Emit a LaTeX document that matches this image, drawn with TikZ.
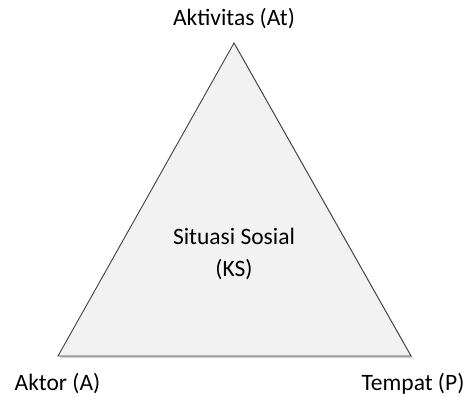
\documentclass[tikz,border=0pt]{standalone}
\usepackage{fontspec}
\setmainfont{Carlito}
\begin{document}
\begin{tikzpicture}[x=1pt,y=-1pt,
  lbl/.style={font=\fontsize{23.5}{32}\selectfont, text=black, inner sep=0pt, align=center},
  tri/.style={draw=black!75, line width=0.9pt, fill=black!5, line join=miter},
  shadowtri/.style={fill=black!18, draw=none}]
\useasboundingbox (0,0) rectangle (465,396);
\coordinate (top) at (234,43);
\coordinate (bl) at (58,356);
\coordinate (br) at (411,356);
\fill[shadowtri] ([shift={(2,2)}]top) -- ([shift={(2,2)}]bl) -- ([shift={(2,2)}]br) -- cycle;
\draw[tri] (top) -- (bl) -- (br) -- cycle;
\node[lbl] (at) at (234,19) {Aktivitas (At)};
\node[lbl] (a) at (57.5,384) {Aktor (A)};
\node[lbl] (p) at (413,384) {Tempat (P)};
\node[lbl] (ks) at (234,254) {Situasi Sosial\\(KS)};
\end{tikzpicture}
\end{document}
